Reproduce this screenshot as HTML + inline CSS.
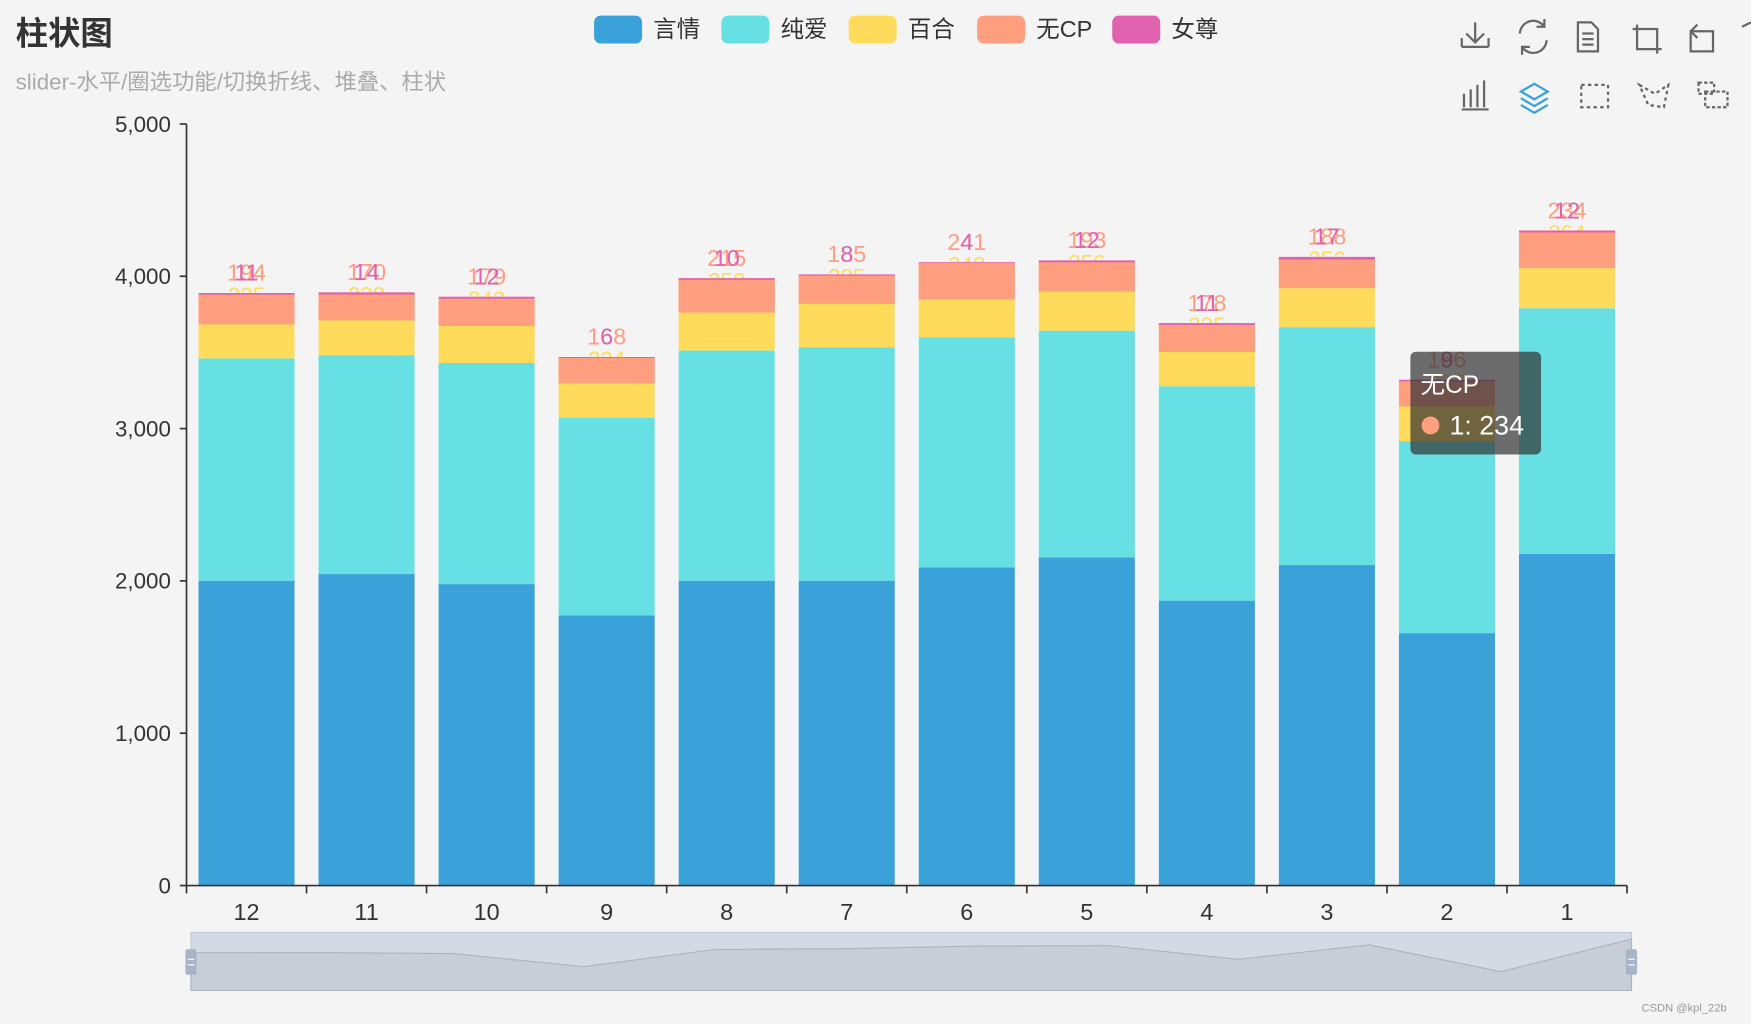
<!DOCTYPE html>
<html><head><meta charset="utf-8">
<style>
html,body{margin:0;padding:0;background:#f4f4f4;}
svg{display:block;font-family:"Liberation Sans","Noto Sans CJK SC",sans-serif;}
</style></head>
<body>
<svg id="chart" width="1751" height="1024" viewBox="0 0 1568 917" xmlns="http://www.w3.org/2000/svg">
<rect width="1568" height="917" fill="#f4f4f4"/>
<text x="14" y="40" font-size="29" font-weight="bold" fill="#333">柱状图</text>
<text x="14" y="80" font-size="20" fill="#aaa">slider-水平/圈选功能/切换折线、堆叠、柱状</text>
<g id="legend"></g>
<g id="toolbox" fill="none" stroke="#666" stroke-width="2">
 <g><path d="M1309 42h24M1321 20v18M1313 30l8 8 8-8M1309 34v8M1333 34v8"/></g>
 <g><path d="M1361 30a12 12 0 0 1 22-6M1385 36a12 12 0 0 1-22 6M1383 17v7h-7M1363 49v-7h7"/></g>
 <g><path d="M1413 20h12l6 6v20h-18zM1417 30h10M1417 35h10M1417 40h10"/></g>
 <g><path d="M1466 22v22h22M1462 26h22v22"/></g>
 <g><path d="M1514 28h20v18h-20zM1514 28l6-6M1514 28l6 6"/></g>
 <g><path d="M1560 24l8-4"/></g>
 <g><path d="M1309 98h24M1311 96v-12M1317 96v-16M1323 96v-20M1329 96v-24"/></g>
 <g stroke="#3aa1d9"><path d="M1362 82l12-7 12 7-12 7zM1362 88l12 7 12-7M1362 94l12 7 12-7"/></g>
 <g stroke-dasharray="3 3"><path d="M1416 76h24v20h-24z"/></g>
 <g stroke-dasharray="3 3"><path d="M1468 76l14 8 12-8-4 20-14-2z"/></g>
 <g><path d="M1521 74h14v10h-14zM1527 82h20v14h-20z" stroke-dasharray="3 2"/></g>
</g>
<g id="plot"></g>
<g id="zoom"></g>
<g>
 <rect x="1263" y="315" width="117" height="92" rx="5" fill="rgba(50,50,50,0.7)"/>
 <text x="1272" y="352" font-size="22" fill="#fff">无CP</text>
 <circle cx="1281" cy="381" r="8" fill="#ff9f7f"/>
 <text x="1298" y="389" font-size="24" fill="#fff">1: 234</text>
</g>
<text x="1470" y="906" font-size="10" fill="#999">CSDN @kpl_22b</text>
</svg>
<script>
const categories = ["12","11","10","9","8","7","6","5","4","3","2","1"];
const seriesNames = ["言情","纯爱","百合","无CP","女尊"];
const yanqing = [2001,2045,1979,1774,2001,2001,2089,2155,1870,2104,1657,2177];
const chunai  = [1459,1437,1452,1298,1511,1533,1510,1488,1408,1562,1261,1613];
const baihe   = [225,228,243,224,250,285,248,256,225,256,227,264];
const wucp    = [194,170,179,168,215,185,241,193,178,188,166,234];
const nvzun   = [11,14,12,6,10,8,4,12,11,17,9,12];
const yTicks  = [0,1000,2000,3000,4000,5000];
const yTickLabels = ["0","1,000","2,000","3,000","4,000","5,000"];
const colors = ["#3aa1d9","#66e0e3","#ffdb5c","#ff9f7f","#e062ae"];
const series = [yanqing,chunai,baihe,wucp,nvzun];

const NS="http://www.w3.org/2000/svg";
function mk(tag,attrs,parent,text){const e=document.createElementNS(NS,tag);for(const k in attrs)e.setAttribute(k,attrs[k]);if(text!==undefined)e.textContent=text;parent.appendChild(e);return e;}
const X0=167,X1=1457,Y0=793,Y1=111,YMAX=5000;
const band=(X1-X0)/categories.length;
const y=v=>Y0-(v/YMAX)*(Y0-Y1);
const xc=i=>X0+band*(i+0.5);
const bw=band*0.8;

const lg=document.getElementById('legend');
const lx=[532,646,760,875,996];
seriesNames.forEach((n,i)=>{
  const g=mk('g',{},lg);
  
  
  mk('rect',{x:lx[i],y:14,width:43,height:25,rx:6,fill:colors[i]},g);
  mk('text',{x:lx[i]+53,y:33,'font-size':21,fill:'#333'},g,n);
});

const p=document.getElementById('plot');
yTicks.forEach((t,i)=>{
  const l=mk('line',{x1:X0-6,x2:X0,y1:y(t),y2:y(t),stroke:'#333','stroke-width':1.5},p);
  
  
  const tx=mk('text',{x:X0-14,y:y(t)+7,'font-size':20,fill:'#333','text-anchor':'end'},p,yTickLabels[i]);
  
  
});
const tops=[];
categories.forEach((c,i)=>{
  let acc=0;const t=[];
  series.forEach((s,k)=>{
    const v=s[i];
    const r=mk('rect',{x:xc(i)-bw/2,y:y(acc+v),width:bw,height:y(acc)-y(acc+v),fill:colors[k]},p);
    
    
    acc+=v;t.push(acc);
    if(k===2){
      const lb=mk('text',{x:xc(i),y:y(acc+series[3][i]+series[4][i])+9,'font-size':20,fill:colors[2],'text-anchor':'middle'},p,String(v));
      
      
    }
  });
  tops.push(t);
});
categories.forEach((c,i)=>{
  [3,4].forEach(k=>{
    const lo=tops[i][k-1],hi=tops[i][k];
    const r=mk('rect',{x:xc(i)-bw/2,y:y(hi),width:bw,height:y(lo)-y(hi),fill:colors[k]},p);
    
    
  });
  const top=tops[i][4];
  const a=mk('text',{x:xc(i),y:y(top)-11,'font-size':21,fill:colors[3],'text-anchor':'middle'},p,String(wucp[i]));
  
  
  const b=mk('text',{x:xc(i),y:y(top)-11,'font-size':21,fill:colors[4],'text-anchor':'middle'},p,String(nvzun[i]));
  
  
});
const ya=mk('line',{x1:X0,x2:X0,y1:Y1,y2:Y0,stroke:'#333','stroke-width':1.5},p);


const xa=mk('line',{x1:X0,x2:X1,y1:Y0,y2:Y0,stroke:'#333','stroke-width':1.5},p);


for(let i=0;i<=categories.length;i++){
  const t=mk('line',{x1:X0+band*i,x2:X0+band*i,y1:Y0,y2:Y0+7,stroke:'#333','stroke-width':1.5},p);
  
  
}
categories.forEach((c,i)=>{
  const t=mk('text',{x:xc(i),y:Y0+31,'font-size':21,fill:'#333','text-anchor':'middle'},p,c);
  
  
});

const z=document.getElementById('zoom');
const ZX0=171,ZX1=1461,ZY0=835,ZY1=887;
const zb=mk('rect',{x:ZX0,y:ZY0,width:ZX1-ZX0,height:ZY1-ZY0,fill:'#d3dae4',stroke:'#c0c8d4'},z);


const totals=categories.map((c,i)=>tops[i][4]);
const tmin=Math.min(...totals),tmax=Math.max(...totals);
const zx=i=>ZX0+(ZX1-ZX0)*i/(categories.length-1);
const zy=v=>ZY1-8-(v-tmin+300)/(tmax-tmin+300)*(ZY1-ZY0-14);
let d='M'+ZX0+' '+ZY1;
totals.forEach((v,i)=>{d+=' L'+zx(i)+' '+zy(v);});
d+=' L'+ZX1+' '+ZY1+' Z';
const sh=mk('path',{d:d,fill:'#c7ced8',stroke:'#aab3c0','stroke-width':1},z);


[ZX0,ZX1].forEach((hx,k)=>{
  const h=mk('rect',{x:hx-5,y:850,width:10,height:23,rx:2,fill:'#a8b5c8'},z);
  
  
  mk('line',{x1:hx-3,x2:hx+3,y1:859,y2:859,stroke:'#fff'},z);
  mk('line',{x1:hx-3,x2:hx+3,y1:864,y2:864,stroke:'#fff'},z);
});
</script>
</body></html>
